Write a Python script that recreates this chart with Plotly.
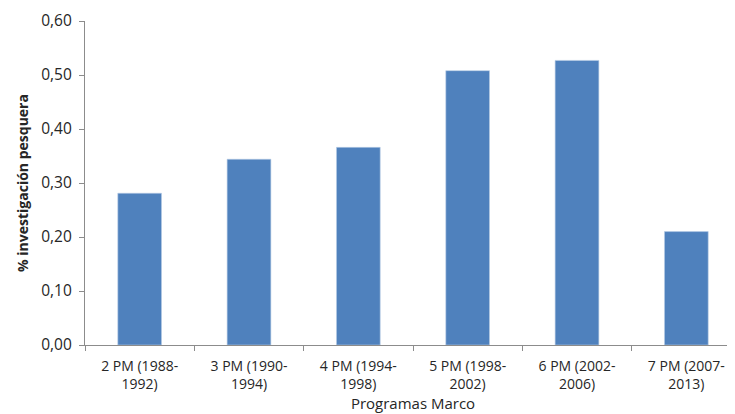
import plotly.graph_objects as go

# Programas Marco de la UE y % dedicado a investigación pesquera
programas = ["2 PM (1988-<br>1992)", "3 PM (1990-<br>1994)", "4 PM (1994-<br>1998)",
             "5 PM (1998-<br>2002)", "6 PM (2002-<br>2006)", "7 PM (2007-<br>2013)"]
porcentaje = [0.281, 0.344, 0.366, 0.508, 0.527, 0.210]
y_ticks = [0.0, 0.1, 0.2, 0.3, 0.4, 0.5, 0.6]

fig = go.Figure(go.Bar(x=programas, y=porcentaje,
                       marker=dict(color="#4F81BD", line=dict(color="#B9CDE5", width=0.6))))

# la página añade 8 px de margen; el gráfico original queda algo recortado a la derecha
fig.update_layout(
    width=735, height=406,
    margin=dict(l=77, r=2, t=13, b=69),
    plot_bgcolor="white", paper_bgcolor="white",
    separators=",.",
    bargap=0.6,
    showlegend=False,
    font=dict(family="Open Sans", size=13, color="#404040"),
)

fig.update_xaxes(
    automargin=False,
    title=dict(text="Programas Marco", font=dict(size=15, color="#262626"), standoff=4),
    showline=True, linecolor="#8C8C8C", linewidth=1.2,
    ticks="outside", ticklen=5, tickcolor="#8C8C8C", tickson="boundaries",
    ticklabelstandoff=8,
    tickfont=dict(size=14, color="#262626"),
    showgrid=False,
)

fig.update_yaxes(
    automargin=False,
    title=dict(text="<b>% investigación pesquera</b>", font=dict(size=14, color="#262626"), standoff=9),
    range=[0, 0.6], tickvals=y_ticks, tickformat=".2f",
    showline=True, linecolor="#8C8C8C", linewidth=1.2,
    ticks="outside", ticklen=5, tickcolor="#8C8C8C",
    ticklabelstandoff=4,
    tickfont=dict(size=15.5, color="#262626"),
    showgrid=False, zeroline=False,
)

fig.write_html("out.html")
